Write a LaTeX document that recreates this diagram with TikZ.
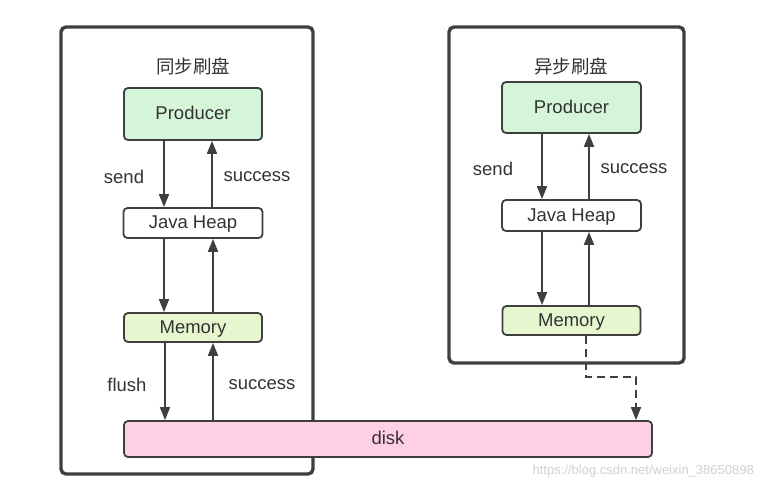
\documentclass[tikz,border=0pt]{standalone}
\usepackage{fontspec}
\setmainfont{Liberation Sans}
\newfontfamily\cjk{Noto Sans CJK SC}
\usetikzlibrary{arrows.meta,calc}
\definecolor{edge}{HTML}{3F3F3F}
\definecolor{txt}{HTML}{333333}
\definecolor{prodfill}{HTML}{D4F5D8}
\definecolor{memfill}{HTML}{E6F7CF}
\definecolor{diskfill}{HTML}{FFD0E5}
\tikzset{
  outerbox/.style={draw=edge, line width=3.4pt, rounded corners=5pt, inner sep=0pt},
  inbox/.style={draw=edge, line width=1.8pt, rounded corners=4pt, inner sep=0pt, text=txt,
    text height=13.5pt, text depth=2pt, font=\fontsize{18.5}{22}\selectfont},
  lbl/.style={text=txt, inner sep=0pt, font=\fontsize{18.5}{22}\selectfont},
  ttl/.style={text=txt, inner sep=0pt, font=\cjk\fontsize{18.5}{22}\selectfont},
  arr/.style={draw=edge, line width=1.8pt, -{Triangle[length=13pt,width=10pt]}},
  dasharr/.style={draw=edge, line width=1.8pt, dash pattern=on 8pt off 5pt, -{Triangle[length=13pt,width=10pt]}}
}
\begin{document}
\begin{tikzpicture}[x=1pt,y=-1pt]
\useasboundingbox (0,0) rectangle (762,489);
\fill[white] (0,0) rectangle (762,489);
% outer boxes
\node[outerbox, minimum width=252pt, minimum height=447pt] (lbox) at (187,250.5) {};
\node[outerbox, minimum width=235pt, minimum height=336pt] (rbox) at (566.5,195) {};
% titles
\node[ttl] (lt) at (193,66) {同步刷盘};
\node[ttl] (rt) at (571,66) {异步刷盘};
% left column
\node[inbox, fill=prodfill, minimum width=138pt, minimum height=52pt] (lp) at (193,114) {Producer};
\node[inbox, fill=white, minimum width=139pt, minimum height=30pt] (lj) at (193,223) {Java Heap};
\node[inbox, fill=memfill, minimum width=138pt, minimum height=29pt] (lm) at (193,327.5) {Memory};
% right column
\node[inbox, fill=prodfill, minimum width=139pt, minimum height=51pt] (rp) at (571.5,107.5) {Producer};
\node[inbox, fill=white, minimum width=139pt, minimum height=31pt] (rj) at (571.5,215.5) {Java Heap};
\node[inbox, fill=memfill, minimum width=138pt, minimum height=29pt] (rm) at (571.5,320.5) {Memory};
% disk
\node[inbox, fill=diskfill, minimum width=528pt, minimum height=36pt] (d) at (388,439) {disk};
% left arrows
\draw[arr] ([xshift=-29pt]lp.south) -- ([xshift=-29pt]lj.north);
\draw[arr] ([xshift=19pt]lj.north) -- ([xshift=19pt]lp.south);
\draw[arr] ([xshift=-29pt]lj.south) -- ([xshift=-29pt]lm.north);
\draw[arr] ([xshift=20pt]lm.north) -- ([xshift=20pt]lj.south);
\draw[arr] ([xshift=-28pt]lm.south) -- ([xshift=-223pt]d.north);
\draw[arr] ([xshift=-175pt]d.north) -- ([xshift=20pt]lm.south);
% right arrows
\draw[arr] ([xshift=-29.5pt]rp.south) -- ([xshift=-29.5pt]rj.north);
\draw[arr] ([xshift=17.5pt]rj.north) -- ([xshift=17.5pt]rp.south);
\draw[arr] ([xshift=-29.5pt]rj.south) -- ([xshift=-29.5pt]rm.north);
\draw[arr] ([xshift=17.5pt]rm.north) -- ([xshift=17.5pt]rj.south);
% dashed async flush
\coordinate (bend) at (636,377);
\draw[dasharr] ([xshift=14.5pt]rm.south) |- (bend) -- (bend |- d.north);
% labels
\node[lbl] (ls1) at (124,177) {send};
\node[lbl] (ls2) at (257,177) {success};
\node[lbl] (lf1) at (127,385) {flush};
\node[lbl] (lf2) at (262,385) {success};
\node[lbl] (rs1) at (493,169) {send};
\node[lbl] (rs2) at (634,169) {success};
% watermark
\node[text=black!18, inner sep=0pt, font=\fontsize{13}{15}\selectfont, anchor=east] (wm) at (754,471) {https://blog.csdn.net/weixin\_38650898};
\end{tikzpicture}
\end{document}
